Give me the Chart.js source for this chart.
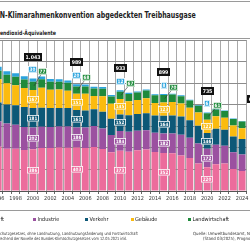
<!DOCTYPE html>
<html><head><meta charset="utf-8">
<script src="https://cdn.jsdelivr.net/npm/chart.js@4"></script>
<style>
html,body{margin:0;padding:0;width:250px;height:250px;overflow:hidden;background:#fff;position:relative;font-family:"Liberation Sans Narrow","DejaVu Sans Condensed","Liberation Sans",sans-serif;color:#222}
#c{position:absolute;left:-10px;top:0}
.t{position:absolute;white-space:nowrap;line-height:1}
.hl{position:absolute;left:0;width:250px;height:1px;background:#9a9a9a}
.lg{font-size:5.5px;color:#222}
.sq{display:inline-block;width:3px;height:3px;margin-right:1.5px;vertical-align:0.3px}
.ft{font-size:4.3px;color:#333}
</style></head><body>
<div class="hl" style="top:1px"></div>
<div id="title" class="t" style="right:54px;top:10px;font-size:9.5px;font-weight:bold;transform-origin:right center">Emissionen der von der U<span id="titleVis">N-Klimarahmenkonvention abgedeckten Treibhausgase</span></div>
<div id="sub" class="t" style="right:194px;top:29.5px;font-size:6px;font-weight:bold;transform-origin:right center">Mio. Tonnen Kohl<span id="subVis">endioxid-Äquivalente</span></div>
<div class="hl" style="top:38px"></div>
<canvas id="c" width="260" height="250" style="width:260px;height:250px"></canvas>
<div class="hl" style="top:210px"></div>
<div id="legend"></div>
<div id="f1" class="t ft" style="right:112px;top:232px;transform-origin:right center">* Sektoren gemäß Bundes-Klimas<span id="f1Vis">chutzgesetzes, ohne Landnutzung, Landnutzungsänderung und Forstwirtschaft</span></div>
<div id="f2" class="t ft" style="right:123px;top:237px;transform-origin:right center">** Zielwerte entspr<span id="f2Vis">echend der Novelle des Bundes-Klimaschutzgesetzes vom 12.05.2021 inkl.</span></div>
<div class="t ft" style="left:193px;top:232px">Quelle: Umweltbundesamt, Nationale Treibhausgas-Inventare</div>
<div class="t ft" style="left:203px;top:237px">(Stand 03/2025), Prognose</div>
<script>
const years = ['1996','1997','1998','1999','2000','2001','2002','2003','2004','2005','2006','2007','2008','2009','2010','2011','2012','2013','2014','2015','2016','2017','2018','2019','2020','2021','2022','2023','2024'];
const energie =        [410,392,392,379,386,399,399,404,402,403,398,408,390,360,373,365,378,384,362,352,349,330,307,256,220,247,256,205,185];
const industrie =      [235,233,222,214,202,196,195,194,195,186,190,194,190,160,184,184,180,180,178,182,185,192,187,184,172,181,164,155,153];
const verkehr =        [176,176,180,186,181,178,175,171,172,161,158,155,154,151,152,154,155,158,159,164,166,168,163,164,146,148,148,146,143];
const gebaeude =       [215,197,186,175,167,184,170,171,161,151,155,124,144,137,145,129,131,138,116,123,125,121,115,123,122,118,112,102,101];
const landwirtschaft = [80,79,79,80,77,78,75,74,73,68,68,69,70,69,67,68,69,71,72,70,69,68,66,64,61,62,62,60,62];
const abfall =         [35,33,32,31,30,27,25,23,22,20,18,17,16,14,12,11,10,9,9,8,8,8,7,7,6,6,5,5,5];
const seriesNames = ['Energiewirtschaft','Industrie','Verkehr','Gebäude','Landwirtschaft','Abfallwirtschaft und Sonstiges'];
const labelYears = ['2000','2005','2010','2015','2020'];
const totalYears = ['2000','2005','2010','2015','2020','2024'];
const totals = [1043,989,933,899,735,649];
const yTicks = [0,200,400,600,800,1000,1200,1400];

const colors = ['#ec6c9c','#9b51a0','#0d5877','#fbbb0f','#1f8a3b','#2ba3dd'];
const series = [energie,industrie,verkehr,gebaeude,landwirtschaft,abfall];
const FONT = '"Liberation Sans Narrow","DejaVu Sans Condensed","Liberation Sans",sans-serif';

// fit visible text portions to the widths seen in the reference
function fit(divId, spanId, target){
  const w=document.getElementById(spanId).getBoundingClientRect().width;
  if(w>0) document.getElementById(divId).style.transform='scaleX('+(target/w)+')';
}
fit('title','titleVis',196);
fit('sub','subVis',56);
fit('f1','f1Vis',138);
fit('f2','f2Vis',127);

// legend
const legendPos = [{right:246},{left:33},{left:85},{left:130.5},{left:188},{left:252}];
const lg = document.getElementById('legend');
seriesNames.forEach((n,i)=>{
  const d = document.createElement('div');
  d.className='t lg';
  d.style.top='217px';
  const p = legendPos[i];
  if(p.right!==undefined) d.style.right=p.right+'px'; else d.style.left=p.left+'px';
  d.innerHTML='<span class="sq" style="background:'+colors[i]+'"></span>'+n;
  lg.appendChild(d);
});

function box(ctx,x,y,text,fill,font,h,stroke){
  ctx.font=font;
  const w=Math.ceil(ctx.measureText(text).width)+3;
  const l=Math.round(x-w/2), t=Math.round(y-h/2);
  ctx.fillStyle=fill; ctx.fillRect(l,t,w,h);
  if(stroke){ctx.strokeStyle=stroke;ctx.lineWidth=0.8;ctx.strokeRect(l+0.4,t+0.4,w-0.8,h-0.8);}
  ctx.fillStyle='#fff'; ctx.textAlign='center'; ctx.textBaseline='middle';
  ctx.fillText(text,l+w/2,t+h/2+0.5);
}

const labelPlugin = {
  id:'segLabels',
  afterDatasetsDraw(chart){
    const ctx=chart.ctx;
    const metas=series.map((s,i)=>chart.getDatasetMeta(i));
    ctx.save();
    const small='bold 4.6px '+FONT;
    labelYears.forEach(yr=>{
      const i=years.indexOf(yr);
      for(let d=0;d<4;d++){
        const el=metas[d].data[i];
        box(ctx,el.x,(el.y+el.base)/2,String(series[d][i]),colors[d],small,6.5,'#fff');
      }
      const g=metas[4].data[i], a=metas[5].data[i];
      const top=a.y;
      const gx=g.x+10, gy=top-7;
      ctx.strokeStyle='#333';ctx.lineWidth=0.6;
      ctx.beginPath();ctx.moveTo(gx-2,gy+3);ctx.lineTo(g.x+1,(g.y+g.base)/2);ctx.stroke();
      box(ctx,a.x,top-9,String(abfall[i]),colors[5],small,6.5,'#fff');
      box(ctx,gx,gy,String(landwirtschaft[i]),colors[4],small,6.5,'#fff');
    });
    totalYears.forEach((yr,k)=>{
      const i=years.indexOf(yr);
      const el=metas[5].data[i];
      const x = (yr==='2024') ? el.x+11 : el.x;
      box(ctx,x,el.y-22,totals[k].toLocaleString('de-DE'),'#111','bold 5.2px '+FONT,8,null);
    });
    ctx.restore();
  }
};

new Chart(document.getElementById('c'),{
  type:'bar',
  data:{labels:years,datasets:series.map((s,i)=>({label:seriesNames[i],data:s,backgroundColor:colors[i],borderWidth:0,barPercentage:0.8,categoryPercentage:1}))},
  options:{
    responsive:false,animation:false,devicePixelRatio:1,
    layout:{padding:{top:40,bottom:47,left:3.8,right:3.6}},
    plugins:{legend:{display:false},tooltip:{enabled:false}},
    scales:{
      x:{stacked:true,
         grid:{color:'#a9a9a9',lineWidth:1,offset:true,drawTicks:true,tickLength:3,tickColor:'#666'},
         border:{color:'#555',width:1},
         ticks:{autoSkip:false,maxRotation:0,minRotation:0,padding:1,color:'#333',font:{size:5.5,family:FONT},
                callback:(v,i)=> (parseInt(years[i])%2===0)?years[i]:''},
         afterFit(s){s.height=12;}},
      y:{stacked:true,min:yTicks[0],max:yTicks[yTicks.length-1],
         afterBuildTicks(s){s.ticks=yTicks.map(v=>({value:v}));},
         ticks:{display:false},
         grid:{color:'#8c8c8c',lineWidth:1,drawTicks:false},
         border:{display:false},
         afterFit(s){s.width=0;}}
    }
  },
  plugins:[labelPlugin]
});
</script>
</body></html>
